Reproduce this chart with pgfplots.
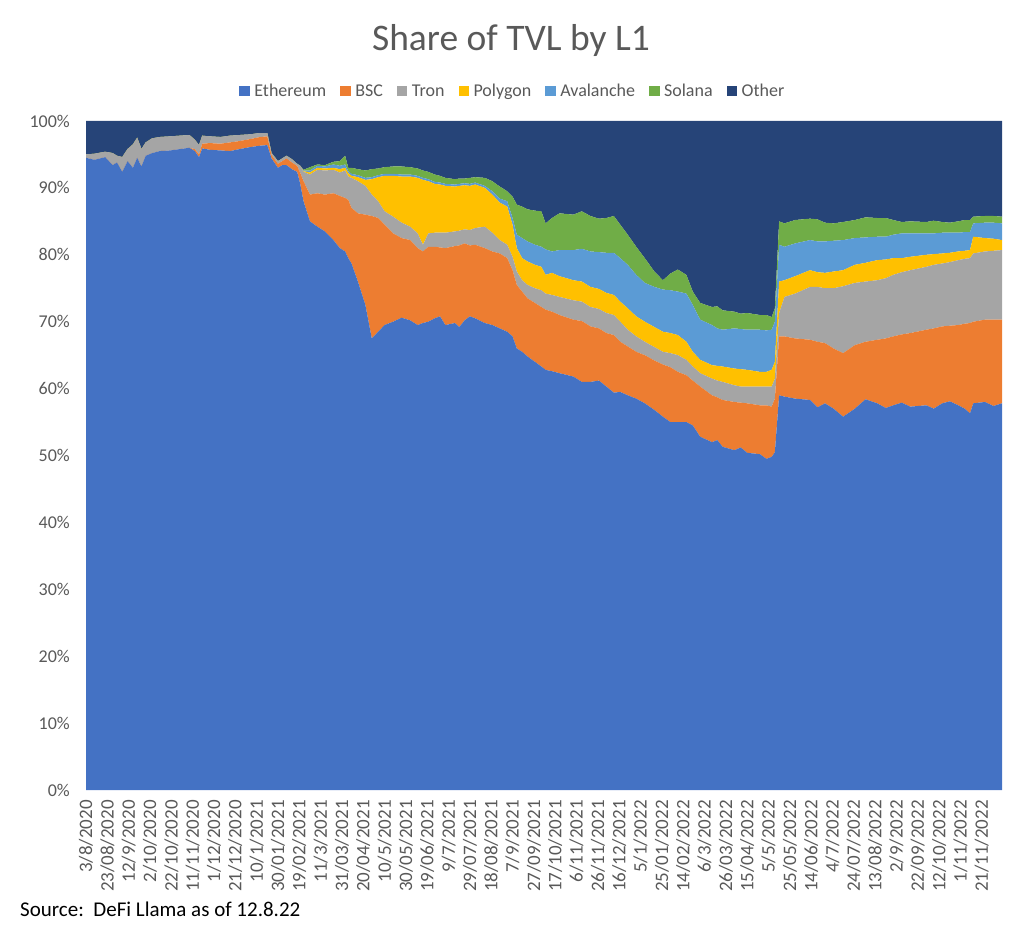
\documentclass[border=0pt]{standalone}
\usepackage{pgfplots}
\pgfplotsset{compat=1.18}
\usepackage{pgfplotstable}
\usepackage{fontspec}
\setmainfont{Carlito}
\definecolor{eth}{HTML}{4472C4}
\definecolor{bsc}{HTML}{ED7D31}
\definecolor{tron}{HTML}{A5A5A5}
\definecolor{poly}{HTML}{FFC000}
\definecolor{avax}{HTML}{5B9BD5}
\definecolor{sol}{HTML}{70AD47}
\definecolor{other}{HTML}{264478}
\definecolor{txt}{HTML}{595959}

\pgfplotstableread{
day eth bsc tron poly avax sol other
0 94.5 0 0.5 0 0 0 5.0
8 94.2 0 0.9 0 0 0 4.9
18 94.6 0 0.8 0 0 0 4.6
25 93.4 0 1.8 0 0 0 4.8
29 93.8 0 1.0 0 0 0 5.2
34 92.4 0 2.2 0 0 0 5.4
39 94.0 0 1.8 0 0 0 4.2
44 93.0 0 3.5 0 0 0 3.5
48 94.5 0 3.0 0 0 0 2.5
52 93.2 0 2.6 0 0 0 4.2
56 94.8 0 2.0 0 0 0 3.2
62 95.2 0 2.2 0 0 0 2.6
69 95.5 0 2.1 0 0 0 2.4
79 95.6 0 2.1 0 0 0 2.3
88 95.8 0 2.0 0 0 0 2.2
97 96.0 0 1.9 0 0 0 2.1
102 95.5 0.3 1.4 0 0 0 2.8
106 94.6 0.4 1.4 0 0 0 3.6
109 95.9 0.7 1.2 0 0 0 2.2
116 95.7 1.0 1.0 0 0 0 2.3
126 95.6 1.0 1.0 0 0 0 2.4
135 95.5 1.3 1.0 0 0 0 2.2
144 95.8 1.2 0.9 0 0 0 2.1
154 96.1 1.2 0.7 0 0 0 2.0
163 96.3 1.3 0.6 0 0 0 1.8
170 96.4 1.3 0.5 0 0 0 1.8
174 94.4 0.5 0.3 0 0 0 4.8
180 93.0 0.6 0.4 0 0 0 6.0
184 93.4 0.6 0.4 0 0 0 5.6
188 93.4 1.0 0.4 0 0 0 5.2
193 92.8 1.0 0.5 0 0 0 5.7
198 92.4 0.9 0.3 0 0 0 6.4
201 90.5 1.7 1.1 0 0 0 6.7
204 88.0 3.0 1.4 0.1 0.1 0.1 7.3
210 85.0 4.0 3.0 0.3 0.3 0.5 6.9
217 84.2 5.0 3.5 0.3 0.3 0.2 6.5
224 83.5 5.5 3.6 0.3 0.3 0.2 6.6
232 82.2 7.0 3.5 0.3 0.5 0.4 6.1
238 81.0 7.8 3.5 0.5 0.5 0.7 6.0
243 80.5 8.0 4.1 0.4 0.5 1.3 5.2
246 79.5 8.7 3.5 0.5 0.3 0.5 7.0
249 78.7 8.3 4.5 0.3 0.3 0.9 7.0
255 76.0 10.2 4.8 0.6 0.3 0.9 7.2
262 72.5 13.5 4.3 0.9 0.3 1.1 7.4
268 67.5 18.3 3.2 2.3 0.3 1.2 7.2
274 68.5 17.0 2.5 3.6 0.3 1.0 7.1
280 69.5 15.0 2.0 5.3 0.3 1.0 6.9
288 70.0 13.2 2.5 6.1 0.3 1.1 6.8
296 70.6 11.9 2.3 6.9 0.3 1.2 6.8
304 70.2 12.0 2.0 7.5 0.3 1.1 6.9
311 69.5 11.5 2.2 8.3 0.3 1.1 7.1
316 69.8 10.7 1.0 9.7 0.3 1.1 7.4
321 70.0 11.2 2.0 7.8 0.3 1.1 7.6
327 70.5 10.7 2.1 7.3 0.3 1.1 8.0
332 70.8 10.3 2.2 7.2 0.3 1.0 8.2
337 69.5 11.5 2.3 7.0 0.3 0.9 8.5
346 69.8 11.5 2.2 6.7 0.3 0.8 8.7
350 69.2 12.2 2.2 6.7 0.3 0.8 8.6
355 70.2 11.5 2.1 6.6 0.3 0.7 8.6
360 70.8 10.6 2.3 6.6 0.3 0.9 8.5
365 70.5 11.0 2.5 6.5 0.3 0.8 8.4
374 69.8 11.2 3.2 5.8 0.3 1.2 8.5
381 69.5 11.0 2.8 5.7 0.5 1.5 9.0
388 69.0 11.2 2.0 5.6 0.6 1.8 9.8
395 68.5 11.0 2.0 5.7 0.8 1.5 10.5
400 67.8 9.9 2.0 4.8 1.0 3.2 11.3
404 66.0 9.5 2.0 3.5 2.0 4.5 12.5
409 65.5 9.0 1.7 3.3 3.0 4.7 12.8
414 64.8 8.7 2.0 3.5 3.0 4.8 13.2
421 64.0 8.8 2.2 3.5 3.0 5.1 13.4
427 63.3 8.9 2.5 3.5 3.0 5.3 13.5
431 62.8 9.0 2.4 2.8 3.8 3.9 15.3
437 62.6 8.9 2.5 3.3 3.2 5.0 14.5
444 62.3 8.7 2.7 3.1 3.9 5.5 13.8
457 61.8 8.5 2.9 3.0 4.5 5.3 14.0
465 61.0 9.1 2.9 3.0 4.9 5.6 13.5
473 61.0 8.3 2.9 3.0 5.3 5.3 14.2
481 61.2 7.8 2.9 3.0 5.5 5.0 14.6
488 60.3 8.0 3.0 3.0 6.0 5.2 14.5
495 59.4 8.6 3.0 3.0 6.3 5.5 14.2
501 59.5 7.5 3.0 3.0 6.5 5.0 15.5
508 59.0 7.3 2.5 3.2 6.5 4.5 17.0
516 58.5 7.0 2.3 3.0 6.2 4.2 18.8
524 57.8 7.2 2.0 3.0 5.8 3.7 20.5
533 56.8 7.4 2.0 3.0 6.0 2.3 22.5
541 55.8 7.8 1.9 3.0 6.3 1.4 23.8
548 55.0 8.2 2.1 3.0 6.4 2.5 22.8
555 55.0 7.5 2.5 3.0 6.5 3.3 22.2
563 55.0 7.0 2.3 2.7 7.2 2.8 23.0
569 54.5 6.7 2.1 2.2 7.0 2.0 25.5
576 52.8 7.5 2.0 2.0 6.0 2.5 27.2
587 52.0 7.0 2.5 2.0 6.0 2.7 27.8
592 52.3 6.4 2.5 2.2 5.6 3.3 27.7
597 51.3 7.0 2.7 2.3 5.5 2.9 28.3
608 50.8 7.2 2.5 2.5 6.0 2.5 28.5
614 51.2 6.7 2.4 2.6 6.0 2.3 28.8
620 50.4 7.4 2.5 2.5 6.0 2.5 28.7
632 50.2 7.3 2.8 2.2 6.3 2.2 29.0
638 49.5 8.0 2.8 2.2 6.2 2.3 29.0
643 49.8 7.5 3.0 2.5 6.0 1.9 29.3
646 50.5 8.0 3.0 2.5 6.0 2.0 28.0
650 59.0 8.8 3.5 4.7 5.5 3.5 15.0
655 58.8 9.0 5.9 2.5 5.0 3.5 15.3
665 58.5 9.0 6.7 2.6 4.9 3.5 14.8
679 58.3 9.0 7.9 2.5 4.5 3.2 14.6
686 57.2 9.8 8.2 2.2 4.6 3.3 14.7
693 57.8 9.0 8.2 2.3 4.7 2.8 15.2
701 57.0 9.0 9.0 2.5 4.6 2.6 15.3
710 55.8 9.5 10.0 2.4 4.5 2.7 15.1
721 57.0 9.5 9.3 2.7 4.0 2.7 14.8
731 58.4 8.6 9.0 2.8 3.8 3.0 14.4
742 57.8 9.5 8.9 3.0 3.5 2.8 14.5
750 57.1 10.4 9.0 2.8 3.4 2.8 14.5
757 57.5 10.3 9.2 2.5 3.5 2.2 14.8
765 57.9 10.2 9.3 2.1 3.7 1.7 15.1
773 57.3 11.0 9.4 2.0 3.5 1.8 15.0
788 57.5 11.3 9.4 1.8 3.2 1.7 15.1
795 57.0 12.0 9.5 1.6 3.1 1.9 14.9
803 57.8 11.5 9.4 1.5 3.1 1.6 15.1
810 58.1 11.3 9.5 1.4 3.0 1.5 15.2
818 57.5 12.0 9.7 1.3 2.8 1.7 15.0
824 57.0 12.7 9.7 1.2 2.8 1.8 14.8
829 56.3 13.5 9.7 1.2 2.7 1.8 14.8
832 57.8 12.2 10.2 2.5 2.0 1.0 14.3
843 58.0 12.3 10.2 2.0 2.3 1.0 14.2
851 57.4 12.9 10.3 1.8 2.4 1.0 14.2
859 57.8 12.5 10.4 1.5 2.5 1.0 14.3
}\data

\begin{document}
\begin{tikzpicture}
\useasboundingbox (0pt,0pt) rectangle (1024pt,932pt);
\node[anchor=base, font=\fontsize{37.5}{42}\selectfont, text=txt] at (511pt,881pt) {Share of TVL by L1};
\node[anchor=base west, font=\fontsize{21}{24}\selectfont, text=black, inner sep=0pt] at (20pt,15.3pt) {Source:\ \ DeFi Llama as of 12.8.22};
\begin{axis}[
  at={(86pt,142pt)}, anchor=south west,
  scale only axis, width=916pt, height=669pt,
  xmin=0, xmax=859, ymin=0, ymax=100,
  stack plots=y,
  axis line style={draw=none},
  major tick length=0pt,
  tick style={draw=none},
  xtick={0,20,...,840},
  xticklabels={3/8/2020, 23/08/2020, 12/9/2020, 2/10/2020, 22/10/2020, 11/11/2020, 1/12/2020, 21/12/2020, 10/1/2021, 30/01/2021, 19/02/2021, 11/3/2021, 31/03/2021, 20/04/2021, 10/5/2021, 30/05/2021, 19/06/2021, 9/7/2021, 29/07/2021, 18/08/2021, 7/9/2021, 27/09/2021, 17/10/2021, 6/11/2021, 26/11/2021, 16/12/2021, 5/1/2022, 25/01/2022, 14/02/2022, 6/3/2022, 26/03/2022, 15/04/2022, 5/5/2022, 25/05/2022, 14/06/2022, 4/7/2022, 24/07/2022, 13/08/2022, 2/9/2022, 22/09/2022, 12/10/2022, 1/11/2022, 21/11/2022},
  ytick={0,10,...,100},
  yticklabels={0\%,10\%,20\%,30\%,40\%,50\%,60\%,70\%,80\%,90\%,100\%},
  xticklabel style={font=\fontsize{19}{22}\selectfont, text=txt, rotate=90, anchor=east, inner xsep=10pt},
  yticklabel style={font=\fontsize{18}{21}\selectfont, text=txt, anchor=east, inner xsep=0pt, xshift=-16pt},
  legend style={at={(0.466,1.0448)}, anchor=center, draw=none, fill=none,
    font=\fontsize{18}{21}\selectfont, text=txt, legend columns=7,
    /tikz/every odd column/.append style={column sep=2.5pt},
    /tikz/every even column/.append style={column sep=12pt}},
  legend image code/.code={\fill[#1] (0pt,-5pt) rectangle (10.5pt,5.5pt);},
]
\addplot[fill=eth, draw=none] table[x=day,y=eth]{\data} \closedcycle;
\addplot[fill=bsc, draw=none] table[x=day,y=bsc]{\data} \closedcycle;
\addplot[fill=tron, draw=none] table[x=day,y=tron]{\data} \closedcycle;
\addplot[fill=poly, draw=none] table[x=day,y=poly]{\data} \closedcycle;
\addplot[fill=avax, draw=none] table[x=day,y=avax]{\data} \closedcycle;
\addplot[fill=sol, draw=none] table[x=day,y=sol]{\data} \closedcycle;
\addplot[fill=other, draw=none] table[x=day,y=other]{\data} \closedcycle;
\legend{Ethereum,BSC,Tron,Polygon,Avalanche,Solana,Other}
\end{axis}
\end{tikzpicture}
\end{document}
